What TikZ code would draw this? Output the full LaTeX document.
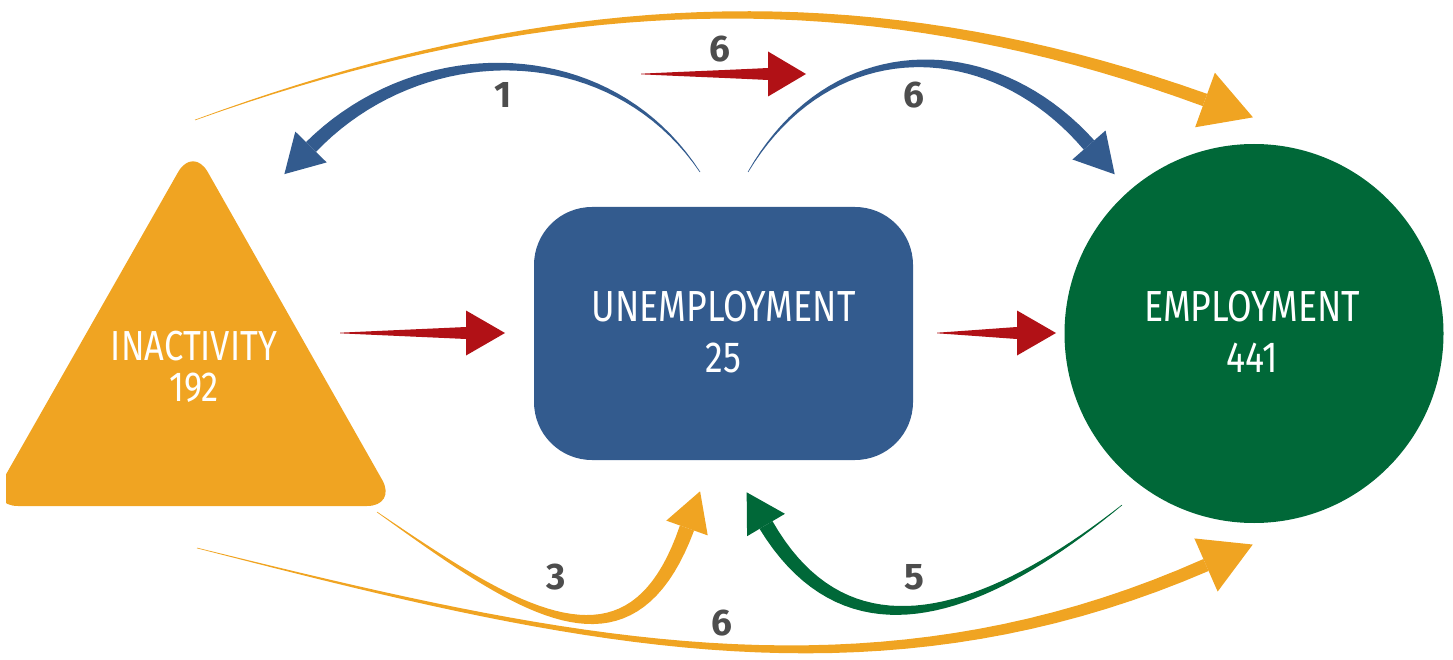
\documentclass[tikz,border=0pt]{standalone}
\usepackage{fontspec}
\usepackage{graphicx}
\setmainfont{Fira Sans}
\usetikzlibrary{calc}

\definecolor{inactorange}{RGB}{240,164,34}
\definecolor{unempblue}{RGB}{51,91,142}
\definecolor{empgreen}{RGB}{0,104,56}
\definecolor{flowred}{RGB}{177,17,22}
\definecolor{labelgray}{RGB}{77,77,77}

\newcommand\narrowtxt[1]{\scalebox{0.82}[1]{#1}}
\newcommand\tapersteps{40}

% Tapered flow arrow along a cubic Bezier curve.
% #1 colour, #2-#5 curve points, #6 half width at the end,
% #7 head half width, #8 head length
\newcommand\taperflow[8]{%
  \coordinate (tq0) at #2;
  \coordinate (tq1) at #3;
  \coordinate (tq2) at #4;
  \coordinate (tq3) at #5;
  \foreach \k in {0,...,\tapersteps}{%
    \pgfmathsetmacro\t{\k/\tapersteps}%
    \pgfmathsetmacro\w{0.3+(#6-0.3)*\t}%
    \coordinate (ta) at ($(tq0)!\t!(tq1)$);
    \coordinate (tb) at ($(tq1)!\t!(tq2)$);
    \coordinate (tc) at ($(tq2)!\t!(tq3)$);
    \coordinate (td) at ($(ta)!\t!(tb)$);
    \coordinate (te) at ($(tb)!\t!(tc)$);
    \coordinate (tf) at ($(td)!\t!(te)$);
    \coordinate (tL\k) at ($(tf)+(td)!\w pt!90:(te)-(td)$);
    \coordinate (tR\k) at ($(tf)+(td)!\w pt!-90:(te)-(td)$);
  }
  \fill[#1] (tL0) \foreach \k in {1,...,\tapersteps}{ -- (tL\k)}
    \foreach \k in {\tapersteps,...,0}{ -- (tR\k)} -- cycle;
  \fill[#1] ($(tq3)!#7 pt!90:(tq2)$) -- ($(tq3)!#8 pt!180:(tq2)$)
    -- ($(tq3)!#7 pt!-90:(tq2)$) -- cycle;
}

\tikzset{
  statetext/.style={text=white, inner sep=0pt, anchor=base,
    font=\fontsize{43.5}{50}\selectfont},
  smallstatetext/.style={statetext, font=\fontsize{42}{48}\selectfont},
  flowlabel/.style={text=labelgray, inner sep=0pt,
    font=\fontsize{37}{40}\selectfont\bfseries},
  unempbox/.style={fill=unempblue, rounded corners=58pt, inner sep=0pt,
    minimum width=379pt, minimum height=253pt},
  empdisc/.style={circle, fill=empgreen, inner sep=0pt, minimum size=379pt},
}

\begin{document}
\begin{tikzpicture}[x=1pt,y=-1pt]
\useasboundingbox (0,0) rectangle (1453,660);

% inactivity triangle, cut at the left edge
\begin{scope}
  \clip (6,0) rectangle (1453,660);
  \fill[inactorange, rounded corners=30pt] (193,146) -- (397,506) -- (-12,506) -- cycle;
\end{scope}

% states
\node[unempbox] (unemp) at (723.5,333.5) {};
\node[empdisc] (emp) at (1254,333.5) {};

\node[smallstatetext] (inactname) at (194,360) {\narrowtxt{INACTIVITY}};
\node[smallstatetext] (inactcount) at (194,401) {\narrowtxt{192}};
\node[statetext] (unempname) at (723.5,321) {\narrowtxt{UNEMPLOYMENT}};
\node[statetext] (unempcount) at (723.5,372) {\narrowtxt{25}};
\node[statetext] (empname) at (1252,321) {\narrowtxt{EMPLOYMENT}};
\node[statetext] (empcount) at (1252,372) {\narrowtxt{441}};

% flows between the states
\taperflow{inactorange}{(195,120)}{(543,-6)}{(857,-26)}{(1205,100)}{6.5}{29}{51}
\taperflow{inactorange}{(197,548)}{(556,638)}{(866,714)}{(1206,565)}{6.5}{29}{51}
\taperflow{unempblue}{(700,172)}{(610,36)}{(420,36)}{(311,147)}{7}{22}{38}
\taperflow{unempblue}{(748,172)}{(830,32)}{(990,32)}{(1089,145)}{7}{22}{39}
\taperflow{inactorange}{(377,512)}{(516,609)}{(630,688)}{(687,528)}{7.5}{22}{39}
\taperflow{empgreen}{(1122,505)}{(989,612)}{(850,667)}{(766,525)}{7.5}{22}{38}
\taperflow{flowred}{(340,333)}{(380,333)}{(425,333)}{(466,333)}{6}{22.5}{39}
\taperflow{flowred}{(641,74)}{(680,74)}{(730,74)}{(768,74)}{6}{22.5}{38}
\taperflow{flowred}{(937,333)}{(965,333)}{(990,333)}{(1017,333)}{6}{22.5}{39}

% flow sizes
\node[flowlabel] (labtopred) at (720,49) {6};
\node[flowlabel] (labuein) at (503,95) {1};
\node[flowlabel] (labueemp) at (914,95) {6};
\node[flowlabel] (labinue) at (556,577) {3};
\node[flowlabel] (labempue) at (914,577) {5};
\node[flowlabel] (labinemp) at (722,623) {6};
\end{tikzpicture}
\end{document}
